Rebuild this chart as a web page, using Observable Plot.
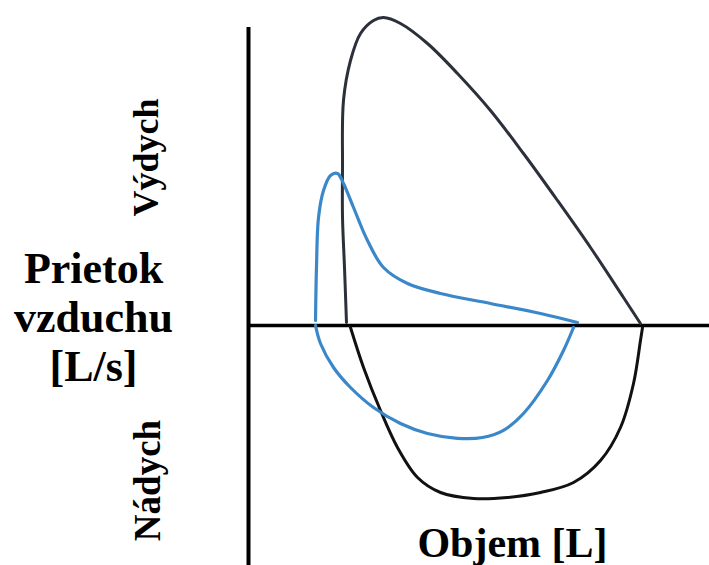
<!DOCTYPE html>
<html>
<head>
<meta charset="utf-8">
<script src="https://cdn.jsdelivr.net/npm/d3@7"></script>
<script src="https://cdn.jsdelivr.net/npm/@observablehq/plot@0.6"></script>
<style>
  html, body { margin: 0; padding: 0; background: #fff; }
  #chart svg { display: block; }
  #chart svg text, #chart svg tspan { font-family: "Liberation Serif", "DejaVu Serif", "Times New Roman", Times, serif !important; }
</style>
</head>
<body>
<div id="chart"></div>
<script>
// Volume [L] and flow [L/s]
const normalExpVolume = [1.633,1.6,1.567,1.567,1.583,1.7,1.867,2.083,2.25,2.533,2.983,3.483,4.033,4.583,5.15,5.7,6.25,6.533];
const normalExpFlow   = [0.075,1.45,2.7,3.95,5.625,6.625,7.3,7.625,7.7,7.55,7.05,6.3,5.375,4.3,3.125,1.95,0.7,0.05];
const normalInsVolume = [1.7,1.917,2.2,2.483,2.817,3.2,3.75,4.317,4.867,5.417,5.867,6.2,6.417,6.533,6.567];
const normalInsFlow   = [-0.05,-1.05,-2.125,-3.05,-3.8,-4.175,-4.325,-4.3,-4.175,-3.925,-3.375,-2.55,-1.45,-0.375,-0.05];
const obstrExpVolume  = [1.117,1.133,1.167,1.25,1.367,1.483,1.583,1.75,1.983,2.25,2.65,3.2,4.033,4.867,5.483];
const obstrExpFlow    = [0.125,1.45,2.7,3.375,3.75,3.8,3.55,2.95,2.125,1.45,1.05,0.8,0.55,0.3,0.075];
const obstrInsVolume  = [5.417,5.25,4.983,4.583,4.25,3.9,3.483,2.983,2.533,2.083,1.7,1.417,1.2,1.117];
const obstrInsFlow    = [-0.05,-0.625,-1.375,-2.2,-2.62,-2.8,-2.82,-2.7,-2.45,-2.05,-1.55,-1.05,-0.45,0];

const yTitleLines = ["Prietok", "vzduchu", "[L/s]"];
const xTitle = "Objem [L]";
const expLabel = "Výdych";
const insLabel = "Nádych";

const toRows = (xs, ys) => xs.map((v, i) => ({v, f: ys[i]}));
const normalExp = toRows(normalExpVolume, normalExpFlow);
const normalIns = toRows(normalInsVolume, normalInsFlow);
const obstrExp = toRows(obstrExpVolume, obstrExpFlow);
const obstrIns = toRows(obstrInsVolume, obstrInsFlow);

const font = "Liberation Serif, DejaVu Serif, serif";

const chart = Plot.plot({
  width: 709,
  height: 565,
  marginLeft: 248,
  marginRight: 0,
  marginTop: 0,
  marginBottom: 0,
  x: {domain: [0, 461 / 60], axis: null},
  y: {domain: [-6, 8.125], axis: null},
  style: "background: #fff; font-family: 'Liberation Serif', serif;",
  marks: [
    Plot.ruleY([0], {x1: 0, x2: 461 / 60, stroke: "#000", strokeWidth: 3.5}),
    Plot.ruleX([0], {y1: 7.45, y2: -6, stroke: "#000", strokeWidth: 4}),
    Plot.line(normalExp, {x: "v", y: "f", curve: "catmull-rom", stroke: "#2b303a", strokeWidth: 3}),
    Plot.line(normalIns, {x: "v", y: "f", curve: "catmull-rom", stroke: "#111", strokeWidth: 3}),
    Plot.line(obstrExp, {x: "v", y: "f", curve: "catmull-rom", stroke: "#3a87c9", strokeWidth: 3.2}),
    Plot.line(obstrIns, {x: "v", y: "f", curve: "catmull-rom", stroke: "#3a87c9", strokeWidth: 3.2}),
    Plot.text([yTitleLines.join("\n")], {x: -2.583, y: 0.225, text: d => d, fontFamily: font, fontSize: 44, fontWeight: "bold", fill: "#000", lineHeight: 1.11, textAnchor: "middle", lineAnchor: "middle"}),
    Plot.text([expLabel], {x: -1.708, y: 4.2, text: d => d, fontFamily: font, fontSize: 36, fontWeight: "bold", fill: "#000", rotate: -90, textAnchor: "middle", lineAnchor: "middle"}),
    Plot.text([insLabel], {x: -1.667, y: -3.875, text: d => d, fontFamily: font, fontSize: 37, fontWeight: "bold", fill: "#000", rotate: -90, textAnchor: "middle", lineAnchor: "middle"}),
    Plot.text([xTitle], {x: 4.4, y: -5.44, text: d => d, fontFamily: font, fontSize: 42, fontWeight: "bold", fill: "#000", textAnchor: "middle", lineAnchor: "middle"})
  ]
});
document.getElementById("chart").appendChild(chart);
</script>
</body>
</html>
